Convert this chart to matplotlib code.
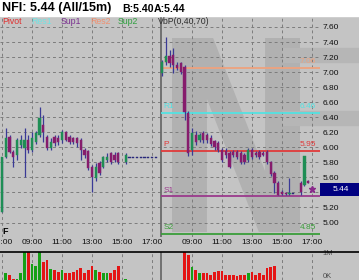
import numpy as np
import matplotlib
matplotlib.use('Agg')
from matplotlib import pyplot as plt
from matplotlib.patches import Rectangle, PathPatch
from matplotlib.lines import Line2D
from matplotlib.textpath import TextPath
from matplotlib.font_manager import FontProperties
from matplotlib.transforms import Affine2D

plt.rcParams['font.family'] = ['Liberation Sans', 'DejaVu Sans']

nan = np.nan

# 15 minute bars, session starts 07:00
day1_open  = [5.14, 5.87, 6.14, 5.94, 5.90, 6.03, 5.99, 6.10, 5.96, 6.07, 6.16, 6.30, 6.14, 5.99,
              6.14, 6.12, 6.10, 6.20, 6.14, 6.12, 6.12, 6.10, 5.96, 5.95, 5.74, 5.59, 5.79, 5.74,
              5.83, 5.92, 5.90, 5.92, nan, 5.80, 5.86, 5.86, 5.86, 5.86, 5.86, 5.86, 5.86, 5.86]
day1_high  = [5.87, 6.26, 6.16, 5.96, 6.12, 6.16, 6.26, 6.16, 6.20, 6.22, 6.54, 6.43, 6.16, 6.12,
              6.17, 6.16, 6.23, 6.22, 6.16, 6.14, 6.14, 6.12, 5.99, 5.97, 5.77, 5.79, 5.82, 5.89,
              5.92, 5.94, 5.94, 5.94, nan, 5.92, 5.86, 5.86, 5.86, 5.86, 5.86, 5.86, 5.86, 5.86]
day1_low   = [5.14, 5.86, 5.92, 5.74, 5.83, 5.99, 5.61, 5.93, 5.94, 6.05, 6.14, 6.07, 5.96, 5.96,
              6.02, 6.03, 6.06, 6.08, 6.04, 6.04, 6.00, 5.83, 5.86, 5.70, 5.41, 5.55, 5.63, 5.72,
              5.80, 5.78, 5.80, 5.78, nan, 5.78, 5.86, 5.86, 5.86, 5.86, 5.86, 5.86, 5.86, 5.86]
day1_close = [5.87, 6.12, 5.94, 5.87, 6.10, 6.10, 6.10, 5.96, 6.12, 6.19, 6.39, 6.20, 5.99, 6.07,
              6.06, 6.07, 6.20, 6.10, 6.07, 6.07, 6.06, 5.96, 5.90, 5.72, 5.61, 5.74, 5.66, 5.87,
              5.87, 5.80, 5.83, 5.80, nan, 5.90, 5.86, 5.86, 5.86, 5.86, 5.86, 5.86, 5.86, 5.86]
day1_vol   = [0, 0.26, 0.19, 0.04, 0.04, 0.26, 1.05, 1.05, 0.59, 0.52, 1.05, 0.67, 0.74, 0.41,
              0.37, 0.30, 0.37, 0.26, 0.26, 0.30, 0.37, 0.44, 0.26, 0.37, 0.52, 0.37, 0.30, 0.26,
              0.26, 0.26, 0.37, 0.52, 0, 0.03, 0, 0, 0, 0, 0, 0, 0, 0]

day2_open  = [6.99, 7.14, 7.22, 7.23, 7.09, 7.12, 7.07, 6.46, 5.96, 6.16, 6.10, 6.19, 6.17, 6.13,
              6.08, 6.06, 5.96, 5.95, 5.92, 5.94, 5.94, 5.92, 5.90, 5.83, 5.96, 5.92, 5.94, 5.93,
              5.94, 5.80, 5.66, 5.53, 5.40, 5.39, 5.38, 5.38, nan, 5.52, 5.50, 5.55, 5.46]
day2_high  = [7.16, 7.47, 7.29, 7.32, 7.13, 7.14, 7.09, 6.48, 6.26, 6.22, 6.19, 6.22, 6.19, 6.16,
              6.10, 6.08, 5.99, 5.99, 5.95, 5.96, 5.97, 5.95, 5.92, 5.99, 5.99, 5.95, 5.96, 5.95,
              5.96, 5.82, 5.68, 5.55, 5.43, 5.40, 5.59, 5.38, nan, 5.55, 5.89, 5.56, 5.48]
day2_low   = [6.95, 7.10, 7.07, 6.99, 7.03, 6.97, 6.36, 5.88, 5.90, 6.03, 6.07, 6.06, 6.06, 6.02,
              5.97, 5.94, 5.80, 5.86, 5.72, 5.87, 5.85, 5.78, 5.78, 5.80, 5.85, 5.87, 5.85, 5.88,
              5.78, 5.62, 5.39, 5.36, 5.36, 5.36, 5.36, 5.38, nan, 5.37, 5.48, 5.52, 5.42]
day2_close = [7.13, 7.22, 7.12, 7.09, 7.06, 7.00, 6.47, 5.92, 6.19, 6.07, 6.16, 6.10, 6.10, 6.05,
              6.00, 5.96, 5.83, 5.90, 5.74, 5.90, 5.87, 5.80, 5.80, 5.96, 5.87, 5.90, 5.87, 5.90,
              5.80, 5.64, 5.52, 5.37, 5.38, 5.38, 5.39, 5.38, nan, 5.40, 5.89, 5.53, 5.44]
day2_vol   = [0, 0, 0, 0, 0, 0, 1.05, 0.93, 0.48, 0.37, 0.26, 0.26, 0.26, 0.19,
              0.30, 0.33, 0.33, 0.19, 0.19, 0.19, 0.15, 0.19, 0.19, 0.26, 0.30, 0.19, 0.26, 0.19,
              0.44, 0.48, 0.52, 0, 0, 0, 0, 0, 0, 0, 0, 0, 0]

day1_ticks = ['07:00', '09:00', '11:00', '13:00', '15:00', '17:00']
day2_ticks = ['09:00', '11:00', '13:00', '15:00', '17:00']
price_ticks = [5.00, 5.20, 5.40, 5.60, 5.80, 6.00, 6.20, 6.40, 6.60, 6.80, 7.00, 7.20, 7.40, 7.60]

pivot_names  = ['R2', 'R1', 'P', 'S1', 'S2']
pivot_values = [7.06, 6.46, 5.95, 5.35, 4.85]
pivot_colors = ['#eea27e', '#52e2e2', '#e03a3a', '#9a3a8c', '#3a9e3a']
pivot_shown  = [True, True, True, False, True]

legend_names  = ['Pivot', 'Res1', 'Sup1', 'Res2', 'Sup2', 'VbP(0,40,70)']
legend_colors = ['#e03030', '#70e4e4', '#7a3090', '#f09070', '#30a040', '#303030']

vbp_prices = [7.23, 6.39]

last_price = 5.44
title_parts = ['NFI: 5.44 (All/15m)', 'B:5.40', 'A:5.44']

W, H = 359, 280
BG = '#c4c4c4'
DAY_LEN = 160 / 15.0
XMIN, XMAX = -2 / 15.0, 318 / 15.0
UP, DOWN, FLAT, WICK = '#1f8e55', '#861c6c', '#28287a', '#3a3a96'

fig = plt.figure(figsize=(W / 100, H / 100), dpi=100, facecolor=BG)
fig.patches.append(Rectangle((0, 1 - 16 / H), 1, 16 / H, transform=fig.transFigure,
                             color='white', zorder=0))

ax = fig.add_axes([0, 1 - 237 / H, 320 / W, (237 - 16) / H])
axv = fig.add_axes([0, 0, 320 / W, 28 / H])

for a in (ax, axv):
    a.set_facecolor(BG)
    for s in a.spines.values():
        s.set_visible(False)
    a.set_xlim(XMIN, XMAX)
    a.set_axisbelow(True)

ax.set_ylim(7.60 - 210 / 75.2, 7.60 + 11 / 75.2)
axv.set_ylim(0, 1.037)

# both days on one compressed time axis
x1 = np.arange(len(day1_open)) * 0.25
x2 = DAY_LEN + np.arange(len(day2_open)) * 0.25
xs = np.concatenate([x1, x2])
o = np.array(day1_open + day2_open)
hi = np.array(day1_high + day2_high)
lo = np.array(day1_low + day2_low)
c = np.array(day1_close + day2_close)
vol = np.array(day1_vol + day2_vol)

cols = np.where(c > o, UP, np.where(c < o, DOWN, FLAT))
ok = ~np.isnan(o)

# watermark N
tp = TextPath((0, 0), 'N', size=1, prop=FontProperties(family='DejaVu Sans', weight='bold'))
ext = tp.get_extents()
bx0, bx1 = 172 / W, 300 / W
by0, by1 = 1 - 232 / H, 1 - 38 / H
tr = Affine2D().translate(-ext.x0, -ext.y0).scale((bx1 - bx0) / ext.width,
                                                   (by1 - by0) / ext.height).translate(bx0, by0)
ax.add_patch(PathPatch(tp, transform=tr + fig.transFigure, fc='#b1b1b1', ec='none', zorder=0.2))

for p in vbp_prices:
    ax.axhspan(p - 0.09, p + 0.09, xmin=0.88, xmax=W / 320, color='#b6b6b6',
               clip_on=False, zorder=0.3)

# time ticks
tick_pos = [int(t[:2]) - 7 for t in day1_ticks] + [int(t[:2]) - 7 + DAY_LEN for t in day2_ticks]
tick_lab = day1_ticks + day2_ticks
for a in (ax, axv):
    a.set_xticks(tick_pos)
    a.grid(True, axis='x', ls=(0, (3, 3)), color='#7c7c7c', lw=0.7)
ax.set_xticklabels(tick_lab)
axv.set_xticklabels([])
ax.tick_params(axis='x', length=0, pad=1.2, labelsize=6, colors='#101010')
axv.tick_params(axis='both', length=0, labelleft=False, labelbottom=False)

# the 5.40 label sits under the last price box
ax.set_yticks(price_ticks)
ax.set_yticklabels(['' if abs(p - last_price) < 0.1 else '%.2f' % p for p in price_ticks])
ax.grid(True, axis='y', ls=(0, (3, 3)), color='#7c7c7c', lw=0.7)
ax.yaxis.tick_right()
ax.tick_params(axis='y', length=0, pad=1.6, labelsize=6, colors='#101010')

# pivot levels for the second day
for name, val, col, shown in zip(pivot_names, pivot_values, pivot_colors, pivot_shown):
    ax.hlines(val, DAY_LEN - 0.05, XMAX, color=col, lw=1.3, zorder=1.5)
    ax.text(DAY_LEN + 0.08, val + 0.035, name, color=col, fontsize=6, va='bottom', zorder=1.6)
    if shown:
        ax.text(20.93, val + 0.035, '%.2f' % val, color=col, fontsize=6, ha='right',
                va='bottom', zorder=1.6)

# day separator
ax.axvline(DAY_LEN - 0.06, color='#6a6a6a', lw=1.3, zorder=1.4)
axv.axvline(DAY_LEN - 0.06, color='#6a6a6a', lw=1.3, zorder=1.4)

# candles
ax.vlines(xs[ok], lo[ok], hi[ok], color=WICK, lw=0.9, zorder=2)
body = np.maximum(np.abs(c - o), 0.012)
ax.bar(xs[ok], body[ok], bottom=np.minimum(o, c)[ok], width=0.16, color=cols[ok],
       edgecolor=cols[ok], lw=0.3, zorder=3)
ax.plot(xs[ok][-1], c[ok][-1], marker='*', ms=5, color='#8a2a8a', zorder=4)

# volume
vcol = np.where(c >= o, '#16a016', '#e41414')
axv.bar(xs[ok], vol[ok], width=0.18, color=vcol[ok], zorder=2)
axv.text(1.008, 0.93, '1M', transform=axv.transAxes, fontsize=5.5, color='#505050',
         va='center', clip_on=False)
axv.text(1.008, 0.12, '0K', transform=axv.transAxes, fontsize=5.5, color='#505050',
         va='center', clip_on=False)
fig.add_artist(Line2D([0, 1], [1 - 251.5 / H] * 2, color='black', lw=1.2))

# last price box
ytr = ax.get_yaxis_transform()
ax.add_patch(Rectangle((1.0, last_price - 0.085), W / 320 - 1.0, 0.17, transform=ytr,
                       fc='#000080', ec='none', clip_on=False, zorder=5))
ax.text(1.065, last_price, '%.2f' % last_price, transform=ytr, color='white', fontsize=6,
        ha='center', va='center', clip_on=False, zorder=6)

# legend row and title
lx = [2, 31, 61, 90, 118, 158]
for name, col, x in zip(legend_names, legend_colors, lx):
    fig.text(x / W, 1 - 21 / H, name, color=col, fontsize=6.3, va='center')
fig.text(2 / W, 1 - 232 / H, 'F', color='black', fontsize=6.5, weight='bold', va='center')

for part, x, fs in zip(title_parts, [2, 122, 154], [9, 7.6, 7.6]):
    fig.text(x / W, 1 - 8.5 / H, part, fontsize=fs, weight='bold', va='center', color='black')

fig.savefig('out.png', dpi=100, facecolor=BG)
